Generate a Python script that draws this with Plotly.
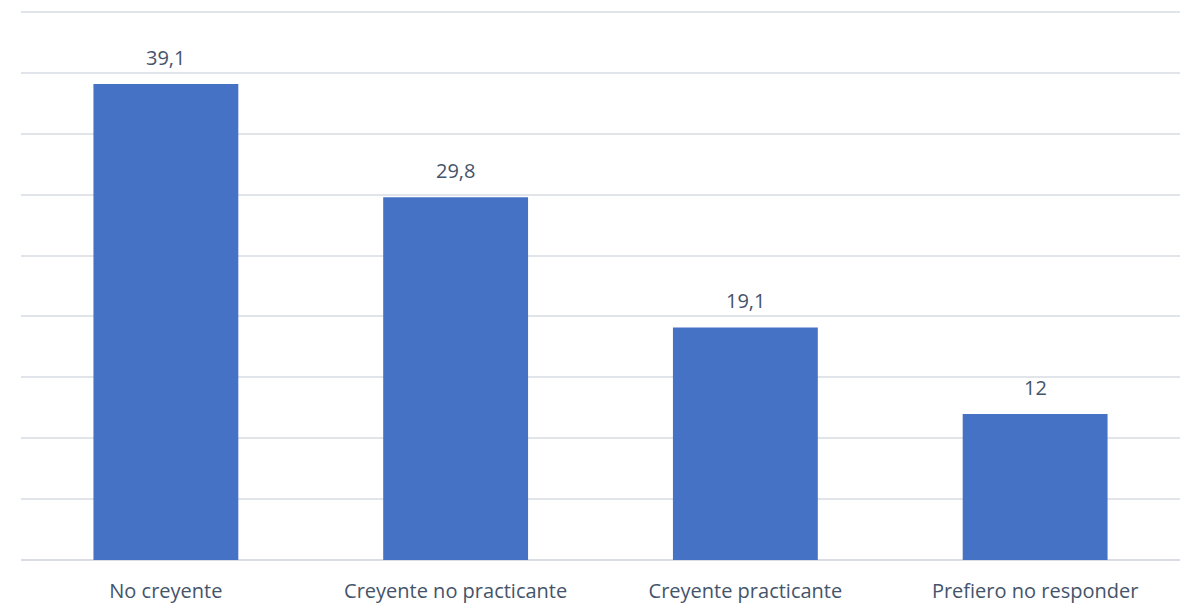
import plotly.graph_objects as go

categories = ["No creyente", "Creyente no practicante", "Creyente practicante", "Prefiero no responder"]
values = [39.1, 29.8, 19.1, 12]
labels = ["39,1", "29,8", "19,1", "12"]

fig = go.Figure()
fig.add_trace(go.Bar(
    x=categories, y=values,
    marker=dict(color="#4672c6", line=dict(width=0)),
    hoverinfo="skip",
))

for c, v, t in zip(categories, values, labels):
    fig.add_annotation(x=c, y=v, text=t, showarrow=False, yanchor="bottom",
                       yshift=11, font=dict(family="Open Sans", size=20, color="#44546a"))

fig.update_layout(
    width=1184, height=603,
    margin=dict(l=21, r=4, t=10, b=43, autoexpand=False),
    paper_bgcolor="white", plot_bgcolor="white",
    bargap=0.5, showlegend=False,
    separators=",.",
    font=dict(family="Open Sans", size=20, color="#44546a"),
)
fig.update_yaxes(range=[0, 45.17], dtick=5, showticklabels=False, gridcolor="#e1e4e9",
                 gridwidth=2, zeroline=True, zerolinecolor="#d9dde3", zerolinewidth=2,
                 fixedrange=True, automargin=False)
fig.update_xaxes(showgrid=False, ticks="", ticklabelstandoff=17, automargin=False,
                 tickfont=dict(family="Open Sans", size=20, color="#44546a"))

fig.write_html("out.html", config={"displayModeBar": False},
               post_script="document.body.style.margin='0';document.body.style.overflow='hidden';")
